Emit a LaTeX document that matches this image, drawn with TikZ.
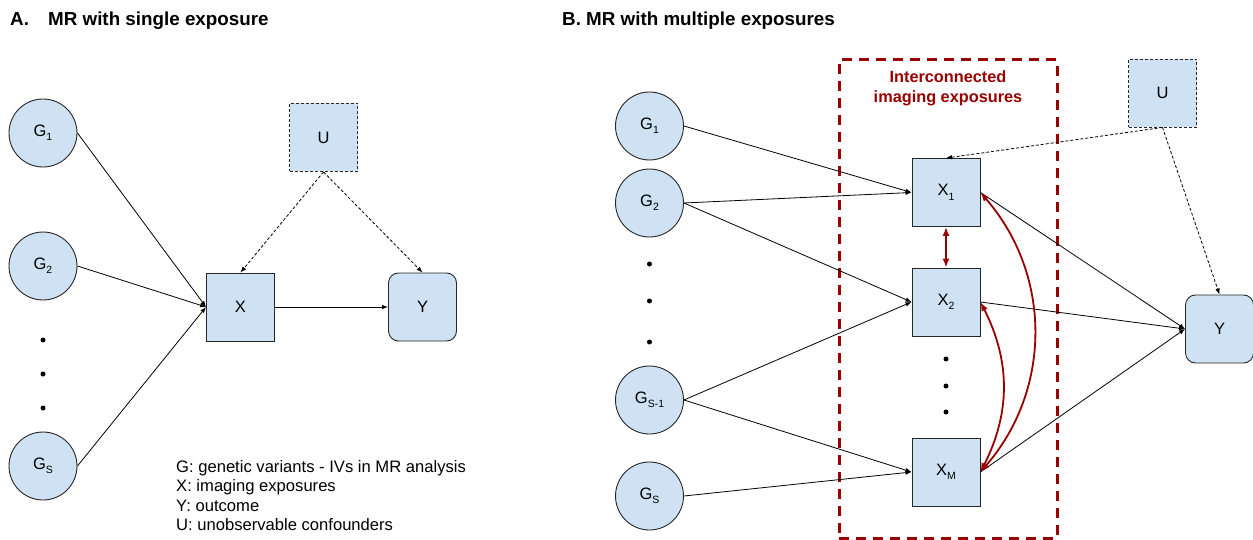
\documentclass[tikz,border=0pt]{standalone}
\usepackage{fontspec}
\setmainfont{Liberation Sans}
\usetikzlibrary{arrows.meta,positioning}

\definecolor{nodeblue}{HTML}{CFE2F3}
\definecolor{groupred}{HTML}{990000}

% lowered index, as in G_1
\newcommand\lowidx[1]{\raisebox{-0.5ex}{\fontsize{10.5}{10.5}\selectfont #1}}

\begin{document}
\begin{tikzpicture}[x=1pt, y=1pt,
		every node/.style={font=\fontsize{16.5}{19}\selectfont},
		gnode/.style={circle, draw=black!85, line width=0.9pt, fill=nodeblue, minimum size=68pt, inner sep=0pt},
		xnode/.style={rectangle, draw=black!85, line width=0.9pt, fill=nodeblue, minimum size=68pt, inner sep=0pt},
		unode/.style={xnode, dash pattern=on 3pt off 2pt},
		ynode/.style={xnode, rounded corners=10pt},
		dotnode/.style={circle, fill=black, inner sep=0pt, minimum size=5pt},
		arr/.style={-{Latex[length=6pt, width=4.5pt]}, line width=0.8pt},
		darr/.style={arr, dash pattern=on 3pt off 2pt},
		redarr/.style={{Latex[length=9pt, width=7pt]}-{Latex[length=9pt, width=7pt]}, draw=groupred, line width=1.8pt},
		title/.style={font=\fontsize{18.8}{22}\selectfont\bfseries, anchor=base west, inner sep=0pt}
	]

	\useasboundingbox (0,0) rectangle (1253,-540);

	% ---- A: single exposure ----
	\def \gax {43}

	\node[title] (title-a) at (10,-26) {A.};
	\node[title] (title-a-text) at (48,-26) {MR with single exposure};

	\node[gnode] (a-g1) at (\gax,-133) {G\lowidx{1}};
	\node[gnode] (a-g2) at (\gax,-266) {G\lowidx{2}};
	\node[gnode] (a-gs) at (\gax,-466) {G\lowidx{S}};

	\foreach \y in {340, 374, 408} {
			\node[dotnode] (a-dot-\y) at (\gax,-\y) {};
		}

	\node[xnode] (a-x) at (240.5,-307) {X};
	\node[ynode] (a-y) at (422.5,-307) {Y};
	\node[unode] (a-u) at (323.5,-137.5) {U};

	\foreach \g in {g1, g2, gs} {
			\draw[arr] (a-\g.east) -- (a-x.west);
		}
	\draw[arr] (a-x) -- (a-y);
	\draw[darr] (a-u.south) -- (a-x.north);
	\draw[darr] (a-u.south) -- (a-y.north);

	\node[anchor=north west, inner sep=0pt, align=left, font=\fontsize{16.6}{19.5}\selectfont] (legend) at (176,-460) {
		G: genetic variants - IVs in MR analysis\\
		X: imaging exposures\\
		Y: outcome\\
		U: unobservable confounders};

	% ---- B: multiple exposures ----
	\def \gbx {649.5}
	\def \xbx {946}

	\node[title] (title-b) at (562,-26) {B. MR with multiple exposures};

	\node[draw=groupred, line width=3pt, dash pattern=on 10pt off 7pt, minimum width=218pt, minimum height=478pt, inner sep=0pt] (group) at (948,-299) {};
	\node[below=12pt of group.north, text=groupred, align=center, inner sep=0pt, font=\fontsize{16.3}{20}\selectfont\bfseries] (group-label) {Interconnected\\imaging exposures};

	\node[gnode] (b-g1) at (\gbx,-126) {G\lowidx{1}};
	\node[gnode] (b-g2) at (\gbx,-203) {G\lowidx{2}};
	\node[gnode] (b-gs1) at (\gbx,-400) {G\lowidx{S-1}};
	\node[gnode] (b-gs) at (\gbx,-496) {G\lowidx{S}};

	\foreach \y in {264, 301, 342} {
			\node[dotnode] (b-gdot-\y) at (\gbx,-\y) {};
		}

	\node[xnode] (b-x1) at (\xbx,-192.5) {X\lowidx{1}};
	\node[xnode] (b-x2) at (\xbx,-302) {X\lowidx{2}};
	\node[xnode] (b-xm) at (\xbx,-472) {X\lowidx{M}};

	\foreach \y in {359, 386, 412} {
			\node[dotnode] (b-xdot-\y) at (\xbx,-\y) {};
		}

	\node[unode] (b-u) at (1162.5,-93) {U};
	\node[ynode] (b-y) at (1219.5,-329) {Y};

	\foreach \from/\to in {g1/x1, g2/x1, g2/x2, gs1/x2, gs1/xm, gs/xm} {
			\draw[arr] (b-\from.east) -- (b-\to.west);
		}
	\foreach \from in {x1, x2, xm} {
			\draw[arr] (b-\from.east) -- (b-y.west);
		}
	\draw[darr] (b-u.south) -- (b-x1.north);
	\draw[darr] (b-u.south) -- (b-y.north);

	% links between the exposures
	\draw[redarr] (b-x1) -- (b-x2);
	\draw[redarr] (b-x2.east) to[bend left=27] (b-xm.east);
	\draw[redarr] (b-x1.east) to[bend left=41] (b-xm.east);

\end{tikzpicture}
\end{document}
